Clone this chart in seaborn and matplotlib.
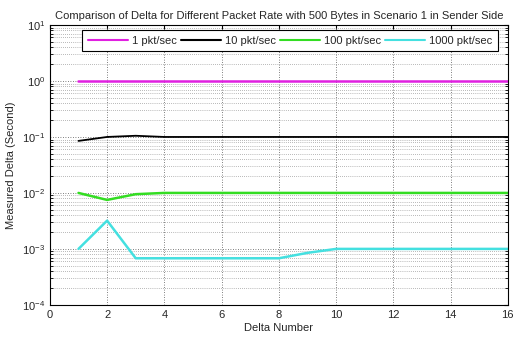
import numpy as np
import pandas as pd
import matplotlib
matplotlib.use("Agg")
import matplotlib.pyplot as plt
import seaborn as sns

x = list(range(1, 17))
rate_1 = [1.0] * 16
rate_10 = [0.085, 0.1, 0.105, 0.1, 0.1, 0.1, 0.1, 0.1, 0.1, 0.1, 0.1, 0.1, 0.1, 0.1, 0.1, 0.1]
rate_100 = [0.01, 0.0075, 0.0095, 0.01, 0.01, 0.01, 0.01, 0.01, 0.01, 0.01, 0.01, 0.01, 0.01, 0.01, 0.01, 0.01]
rate_1000 = [0.001, 0.0032, 0.00068, 0.00068, 0.00068, 0.00068, 0.00068, 0.00068, 0.00085, 0.001, 0.001, 0.001, 0.001, 0.001, 0.001, 0.001]
labels = ["1 pkt/sec", "10 pkt/sec", "100 pkt/sec", "1000 pkt/sec"]
colors = ["#e020e0", "#000000", "#33dd22", "#44e0e0"]

frames = []
for lab, vals in zip(labels, [rate_1, rate_10, rate_100, rate_1000]):
    frames.append(pd.DataFrame({"Delta Number": x, "Delta": vals, "Rate": lab}))
df = pd.concat(frames, ignore_index=True)

sns.set_style("white")
plt.rcParams["font.family"] = ["Liberation Sans", "DejaVu Sans"]
fig = plt.figure(figsize=(5.14, 3.38), dpi=100)
ax = fig.add_axes([0.097, 0.098, 0.891, 0.828])
sns.lineplot(data=df, x="Delta Number", y="Delta", hue="Rate", palette=colors,
             linewidth=1.8, ax=ax, legend=True)
for ln in ax.get_lines():
    if ln.get_color() in ("#000000", (0.0, 0.0, 0.0), (0.0, 0.0, 0.0, 1.0)):
        ln.set_linewidth(1.3)
ax.set_yscale("log")
ax.set_ylim(1e-4, 10)
ax.set_xlim(0, 16)
ax.set_xticks(range(0, 17, 2))
ax.grid(True, which="major", axis="both", linestyle=(0, (1, 2)), color="#555555", linewidth=0.6)
ax.grid(True, which="minor", axis="y", linestyle=(0, (1, 2)), color="#777777", linewidth=0.5)
for s in ax.spines.values():
    s.set_color("black")
    s.set_linewidth(0.8)
ax.tick_params(axis="both", which="both", direction="in", labelsize=8, length=3, color="black",
               top=True, right=True)
ax.tick_params(axis="y", which="minor", length=2, left=True, right=True)
ax.set_xlabel("Delta Number", fontsize=8, labelpad=2)
ax.set_ylabel("Measured Delta (Second)", fontsize=8)
ax.set_title("Comparison of Delta for Different Packet Rate with 500 Bytes in Scenario 1 in Sender Side",
             fontsize=8, pad=4)
handles, hl = ax.get_legend_handles_labels()
leg = ax.legend(handles, hl, loc="lower left", ncol=4, fontsize=8, frameon=True, fancybox=False,
                edgecolor="black", handlelength=3.6, columnspacing=0.8, handletextpad=0.4,
                borderpad=0.5, mode="expand", bbox_to_anchor=(0.059, 0.886, 0.932, 0.082),
                framealpha=1)
leg.get_frame().set_linewidth(0.8)
for h in leg.get_lines():
    h.set_linewidth(1.5)
fig.savefig("out.png", dpi=100)
